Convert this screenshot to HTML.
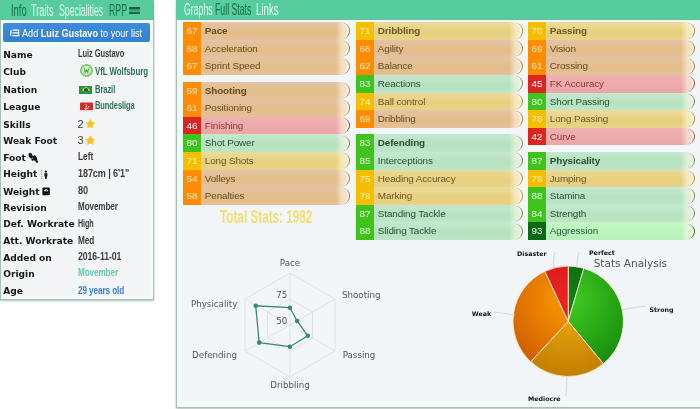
<!DOCTYPE html>
<html><head><meta charset="utf-8"><title>Luiz Gustavo</title>
<style>
*{box-sizing:border-box}
html,body{margin:0;padding:0;background:#fff;width:700px;height:409px;overflow:hidden;position:relative;font-family:"Liberation Sans",Arial,sans-serif}
.panel{position:absolute;background:#f2fcf7;border:1px solid #a2c2b6;border-top:none;box-shadow:0 1px 2px rgba(70,100,90,.45)}
.hdr{position:absolute;left:0;top:0;right:0;background:#56cc9f}
.tab{position:absolute;top:2.7px;font-size:15.6px;line-height:16px;transform-origin:0 0;transform:scaleX(.56);white-space:nowrap}
.tl{color:#e2faee} .td{color:#16704a}
#lp{left:0;top:0;width:154px;height:300px}
#lp .hdr{height:19.6px;left:-1px;right:-1px;border-bottom:1.4px solid #6cbf9e}
#lp .body{position:absolute;left:.5px;right:4.2px;top:46.5px;bottom:3.2px;background:#f4f5f6}
.btn{position:absolute;left:2.2px;top:23px;width:147px;height:18.8px;background:linear-gradient(#3d8cdc,#3580d0);border-radius:2px;color:#fff;font-size:10.3px;line-height:18.8px;white-space:nowrap}
.btn span{position:absolute;left:19px;top:1.6px;transform-origin:0 50%;transform:scaleX(.885)}
.btn b{font-weight:bold}
.lr{position:absolute;left:0;width:150px;height:14px;line-height:12px;white-space:nowrap}
.lab{position:absolute;left:3.2px;top:.9px;font-family:"DejaVu Sans",sans-serif;font-size:9.1px;font-weight:bold;color:#161616}
.lr .v{position:absolute;left:77.6px;top:.4px;font-size:10.4px;color:#3c3c3c;transform-origin:0 50%;transform:scaleX(.83);font-weight:bold;letter-spacing:-.1px}
.lr .logo ~ .v{left:95px}
.v.g{color:#2f7058}
.v.or{color:#63c8ae}
.v.ag{color:#3b7fd0}
.v.sk{color:#2c3548;font-size:11px;top:-.6px;transform:none;font-weight:normal} .v.wf{color:#4e403e;font-size:11px;top:-.6px;transform:none;font-weight:normal}
.star{position:absolute;left:84px;top:-1px;font-size:10px;color:#f3c21a}
.logo{position:absolute;left:78.2px;top:-.8px;width:15px;height:15px}
.logo svg{display:block}
.br{top:2.3px;height:8.1px;left:79.3px;width:13.2px;background:#1c9b3a}
.br:after{content:"";position:absolute;left:2.3px;top:1.1px;width:8.6px;height:5.9px;background:#f2d21a;clip-path:polygon(50% 0,100% 50%,50% 100%,0 50%)}
.br:before{content:"";position:absolute;left:4.7px;top:2.1px;width:3.9px;height:3.9px;border-radius:50%;background:#263e8a;z-index:1}
.bl{top:1.6px;height:10.5px;left:79.9px;width:13px}
.ic{display:inline-block;vertical-align:-1px;margin-left:2px}
#rp{left:176.3px;top:0;width:540px;height:408px}
#rp .hdr{height:19.7px;left:-1px;right:-1px;border-bottom:1.5px solid #6cbf9e}
#rp .body{position:absolute;left:4.2px;right:8px;top:21.5px;bottom:6.5px;background:#f3f6f8}
.grp{position:absolute;width:166.5px}
.r{position:relative;height:17.6px;font-size:9.9px;line-height:18.6px;white-space:nowrap}
.r b{position:absolute;left:0;top:0;width:18px;height:100%;color:#fff;text-align:center;font-weight:normal;z-index:2}
.r i{position:absolute;left:18px;right:0;top:0;height:100%;font-style:normal;padding-left:3.8px;border-radius:0 9px 9px 0;letter-spacing:-.12px}
.r i:after{content:"";position:absolute;right:0;top:1.2px;width:7px;height:15.2px;border-right:1.3px solid rgba(110,85,60,.75);border-radius:0 8px 8px 0/0 7.6px 7.6px 0;box-shadow:inset -1.6px 0 0 rgba(255,250,215,.95)}
.r i:before{content:"";position:absolute;right:0;top:0;bottom:0;width:14px;border-radius:0 9px 9px 0;background:linear-gradient(to right,rgba(255,250,238,0),rgba(255,250,238,.55) 45%,rgba(255,250,238,.7))}
.r.h i{font-weight:bold}
.w b{background:#ff8c00;color:#ffe9c8} .w i{background:linear-gradient(#e5c3a6,#e3bd86 60%,#e5c09c);color:#654a2a}
.m b{background:#f6be00;color:#fff1b8} .m i{background:linear-gradient(#ecdb9c,#e6cf7c 60%,#e9d38c);color:#6d5628}
.s b{background:#3ec41c;color:#ecffe6} .s i{background:linear-gradient(#c6e7d0,#b5e2be 60%,#c0e4c8);color:#274f36}
.p b{background:#0b6b14} .p i{background:linear-gradient(#c2f7c4,#b6f1b8);color:#245a38}
.w i:after{border-right-color:rgba(125,90,50,.7)} .m i:after{border-right-color:rgba(130,110,50,.7)} .s i:after{border-right-color:rgba(60,95,70,.7)} .p i:after{border-right-color:rgba(20,60,30,.85)} .d i:after{border-right-color:rgba(125,45,45,.8)}
.d b{background:#dc2420} .d i{background:linear-gradient(#eeb0b0,#eaa6a8);color:#983232}
.total{position:absolute;left:220px;top:207px;font-size:18px;line-height:20px;font-weight:bold;color:#f2df72;transform-origin:0 0;transform:scaleX(.652);white-space:nowrap}
svg.ov{position:absolute;left:0;top:0}
</style></head><body>
<div class="panel" id="lp">
 <div class="hdr">
  <span class="tab td" style="left:10.6px;transform:scaleX(.6)">Info</span>
  <span class="tab tl" style="left:31.4px;transform:scaleX(.59)">Traits</span>
  <span class="tab tl" style="left:59.2px">Specialities</span>
  <span class="tab td" style="left:108.7px">RPP</span>
  <svg style="position:absolute;left:128.8px;top:7px" width="11" height="7.4" viewBox="0 0 11 7.4"><rect x="0" y="0" width="11" height="2.5" fill="#16603e"/><rect x="0" y="3.5" width="11" height=".9" fill="#2b7a55"/><rect x="0" y="5.2" width="11" height="2.2" fill="#16603e"/></svg>
 </div>
 <div class="body"></div>
  <div class="btn"><svg style="position:absolute;left:6.8px;top:6.2px" width="10" height="9" viewBox="0 0 10 9"><path d="M2.5 1.2h6.8M2.5 3.9h6.8M2.5 6.6h6.8M1 1.2L.6 6.6" stroke="#fff" stroke-width="1.3" fill="none"/><path d="M8.6 1.2v5.4" stroke="#fff" stroke-width="1.1"/></svg><span>Add <b>Luiz Gustavo</b> to your list</span></div>
</div>
<div style="position:absolute;left:0;top:0">
<div class="lr" style="top:48.1px"><span class="lab">Name</span><span class="v" style="transform:scaleX(0.721)">Luiz Gustavo</span></div>
<div class="lr" style="top:65.3px"><span class="lab">Club</span><span class="logo wob" style="left:79.6px;top:-1.5px"><svg width="13" height="13" viewBox="0 0 13 13"><circle cx="6.5" cy="6.5" r="5.6" fill="#eef8e8" stroke="#7cc866" stroke-width="1.7"/><circle cx="6.5" cy="6.5" r="3.7" fill="#fff" stroke="#94d47e" stroke-width=".8"/><path d="M4.4 4.3l.8 4.2 1.3-2.8 1.3 2.8.8-4.2" fill="none" stroke="#4fac38" stroke-width="1.1"/></svg></span><span class="v g" style="transform:scaleX(0.764)">VfL Wolfsburg</span></div>
<div class="lr" style="top:83.3px"><span class="lab">Nation</span><span class="logo br"></span><span class="v g" style="transform:scaleX(0.728)">Brazil</span></div>
<div class="lr" style="top:100.0px"><span class="lab">League</span><span class="logo bl"><svg width="13" height="10.5" viewBox="0 0 14 10.5"><rect width="14" height="8.6" rx=".8" fill="#d42a2a"/><path d="M5.5 2.2c1 0 1.8.8 1.8 1.6S6.6 5.5 5.8 5.8l-.5 1.4h1.8l.2-1 1.1.6v-1c.8-.4 1.3-1 1.3-1.8" fill="none" stroke="#fff" stroke-width=".9"/><rect y="8.6" width="14" height="1.9" fill="#efe4e4"/></svg></span><span class="v g" style="transform:scaleX(0.721)">Bundesliga</span></div>
<div class="lr" style="top:118.1px"><span class="lab">Skills</span><span class="v sk">2</span></div>
<div class="lr" style="top:134.6px"><span class="lab">Weak Foot</span><span class="v wf">3</span></div>
<div class="lr" style="top:150.7px"><span class="lab">Foot</span><span class="v" style="transform:scaleX(0.810)">Left</span></div>
<div class="lr" style="top:167.6px"><span class="lab">Height</span><span class="v" style="transform:scaleX(0.871)">187cm | 6'1"</span></div>
<div class="lr" style="top:184.8px"><span class="lab">Weight</span><span class="v" style="transform:scaleX(0.874)">80</span></div>
<div class="lr" style="top:200.9px"><span class="lab">Revision</span><span class="v" style="transform:scaleX(0.777)">Movember</span></div>
<div class="lr" style="top:217.6px"><span class="lab">Def. Workrate</span><span class="v" style="transform:scaleX(0.689)">High</span></div>
<div class="lr" style="top:234.3px"><span class="lab">Att. Workrate</span><span class="v" style="transform:scaleX(0.792)">Med</span></div>
<div class="lr" style="top:251.0px"><span class="lab">Added on</span><span class="v" style="transform:scaleX(0.839)">2016-11-01</span></div>
<div class="lr" style="top:267.1px"><span class="lab">Origin</span><span class="v or" style="transform:scaleX(0.781)">Movember</span></div>
<div class="lr" style="top:284.3px"><span class="lab">Age</span><span class="v ag" style="transform:scaleX(0.784)">29 years old</span></div>
</div>
<svg class="ov" width="160" height="300" viewBox="0 0 160 300">
<polygon points="90.40,119.50 91.75,122.24 94.77,122.68 92.59,124.81 93.10,127.82 90.40,126.40 87.70,127.82 88.21,124.81 86.03,122.68 89.05,122.24" fill="#f4c417" stroke="#f4c417" stroke-width=".6" stroke-linejoin="round"/>
<polygon points="90.40,136.10 91.75,138.84 94.77,139.28 92.59,141.41 93.10,144.42 90.40,143.00 87.70,144.42 88.21,141.41 86.03,139.28 89.05,138.84" fill="#f4c417" stroke="#f4c417" stroke-width=".6" stroke-linejoin="round"/>
<g fill="#111">
<ellipse cx="30.7" cy="155.7" rx="1.9" ry="3" transform="rotate(-25 30.7 155.7)"/>
<ellipse cx="32.7" cy="159.6" rx="1.3" ry="1.2"/>
<ellipse cx="35" cy="158.2" rx="1.9" ry="3" transform="rotate(-25 35 158.2)"/>
<ellipse cx="36.9" cy="161.6" rx="1.3" ry="1.2"/>
</g>
<path d="M41 170.5h1.6M41 178.5h1.6M41.7 170.5v8" stroke="#777" stroke-width=".8" stroke-dasharray="1 .8" fill="none"/>
<circle cx="45.9" cy="171.6" r="1.2" fill="#111"/>
<path d="M44.4 173.2h3v3.2h-.6v2.4h-1.8v-2.4h-.6z" fill="#111"/>
<rect x="42.4" y="187.6" width="7.4" height="7.6" rx="1" fill="#111"/>
<path d="M44.1 191.2a2 2 0 0 1 4 0z" fill="#fff"/>
<path d="M46.1 191.2l.6-1.4" stroke="#111" stroke-width=".6"/>
</svg>
<div class="panel" id="rp">
 <div class="hdr">
  <span class="tab tl" style="left:7.5px;top:1.9px">Graphs</span>
  <span class="tab td" style="left:38.6px;top:1.9px">Full Stats</span>
  <span class="tab tl" style="left:79.6px;top:1.9px;transform:scaleX(.62)">Links</span>
 </div>
 <div class="body"></div>
</div>
<div class="grp" style="left:183px;top:22.3px">
<div class="r w h"><b>67</b><i>Pace</i></div>
<div class="r w"><b>68</b><i>Acceleration</i></div>
<div class="r w"><b>67</b><i>Sprint Speed</i></div>
</div>
<div class="grp" style="left:183px;top:81.6px">
<div class="r w h"><b>59</b><i>Shooting</i></div>
<div class="r w"><b>61</b><i>Positioning</i></div>
<div class="r d"><b>46</b><i>Finishing</i></div>
<div class="r s"><b>80</b><i>Shot Power</i></div>
<div class="r m"><b>71</b><i>Long Shots</i></div>
<div class="r w"><b>54</b><i>Volleys</i></div>
<div class="r w"><b>58</b><i>Penalties</i></div>
</div>
<div class="grp" style="left:356px;top:22.3px">
<div class="r m h"><b>71</b><i>Dribbling</i></div>
<div class="r w"><b>66</b><i>Agility</i></div>
<div class="r w"><b>62</b><i>Balance</i></div>
<div class="r s"><b>83</b><i>Reactions</i></div>
<div class="r m"><b>74</b><i>Ball control</i></div>
<div class="r w"><b>69</b><i>Dribbling</i></div>
</div>
<div class="grp" style="left:356px;top:134.4px">
<div class="r s h"><b>83</b><i>Defending</i></div>
<div class="r s"><b>85</b><i>Interceptions</i></div>
<div class="r m"><b>75</b><i>Heading Accuracy</i></div>
<div class="r m"><b>79</b><i>Marking</i></div>
<div class="r s"><b>87</b><i>Standing Tackle</i></div>
<div class="r s"><b>88</b><i>Sliding Tackle</i></div>
</div>
<div class="grp" style="left:528px;top:22.3px">
<div class="r m h"><b>70</b><i>Passing</i></div>
<div class="r w"><b>69</b><i>Vision</i></div>
<div class="r w"><b>61</b><i>Crossing</i></div>
<div class="r d"><b>45</b><i>FK Accuracy</i></div>
<div class="r s"><b>80</b><i>Short Passing</i></div>
<div class="r m"><b>78</b><i>Long Passing</i></div>
<div class="r d"><b>42</b><i>Curve</i></div>
</div>
<div class="grp" style="left:528px;top:152.0px">
<div class="r s h"><b>87</b><i>Physicality</i></div>
<div class="r m"><b>79</b><i>Jumping</i></div>
<div class="r s"><b>88</b><i>Stamina</i></div>
<div class="r s"><b>84</b><i>Strength</i></div>
<div class="r p"><b>93</b><i>Aggression</i></div>
</div>
<div class="total">Total Stats: 1982</div>
<svg class="ov" width="700" height="409" viewBox="0 0 700 409">
<defs>
<radialGradient id="gp" cx="568.2" cy="299.5" r="77" gradientUnits="userSpaceOnUse"><stop offset="0" stop-color="#108014"/><stop offset="1" stop-color="#0a5e0c"/></radialGradient>
<radialGradient id="gs" cx="568.2" cy="299.5" r="77" gradientUnits="userSpaceOnUse"><stop offset="0" stop-color="#44cc22"/><stop offset="1" stop-color="#148a0c"/></radialGradient>
<radialGradient id="gm" cx="568.2" cy="299.5" r="77" gradientUnits="userSpaceOnUse"><stop offset="0" stop-color="#efb012"/><stop offset="1" stop-color="#c47e00"/></radialGradient>
<radialGradient id="gw" cx="568.2" cy="299.5" r="77" gradientUnits="userSpaceOnUse"><stop offset="0" stop-color="#ff9a00"/><stop offset="1" stop-color="#cc5a00"/></radialGradient>
<radialGradient id="gd" cx="568.2" cy="299.5" r="77" gradientUnits="userSpaceOnUse"><stop offset="0" stop-color="#ee2222"/><stop offset="1" stop-color="#c41818"/></radialGradient>
</defs>
<g fill="none" stroke="#e0e2e2" stroke-width="1">
<polygon points="290.0,273.0 335.0,299.0 335.0,351.0 290.0,377.0 245.0,351.0 245.0,299.0"/><polygon points="290.0,299.0 312.5,312.0 312.5,338.0 290.0,351.0 267.5,338.0 267.5,312.0"/><line x1="290" y1="325" x2="290.0" y2="273.0"/><line x1="290" y1="325" x2="335.0" y2="299.0"/><line x1="290" y1="325" x2="335.0" y2="351.0"/><line x1="290" y1="325" x2="290.0" y2="377.0"/><line x1="290" y1="325" x2="245.0" y2="351.0"/><line x1="290" y1="325" x2="245.0" y2="299.0"/>
</g>
<polygon points="289.9,307.7 297.2,321.0 307.8,335.8 289.9,346.7 259.2,342.6 255.7,305.8" fill="none" stroke="#388b6c" stroke-width="1.3"/>
<g fill="#388b6c"><circle cx="289.9" cy="307.7" r="2.3"/><circle cx="297.2" cy="321.0" r="2.3"/><circle cx="307.8" cy="335.8" r="2.3"/><circle cx="289.9" cy="346.7" r="2.3"/><circle cx="259.2" cy="342.6" r="2.3"/><circle cx="255.7" cy="305.8" r="2.3"/></g>
<g font-family="DejaVu Sans, sans-serif" font-size="8.7" fill="#555">
<text x="290" y="266.3" text-anchor="middle">Pace</text>
<text x="342" y="297.9">Shooting</text>
<text x="342.7" y="358.2">Passing</text>
<text x="290" y="387.7" text-anchor="middle">Dribbling</text>
<text x="237" y="358.2" text-anchor="end">Defending</text>
<text x="237.3" y="307.4" text-anchor="end">Physicality</text>
<text x="287.2" y="297.6" text-anchor="end">75</text>
<text x="287.4" y="323.9" text-anchor="end">50</text>
</g>
<g stroke="#fff4dc" stroke-width=".8" stroke-linejoin="round">
<path d="M568.2,321.3 L568.2,266.1 A55.2,55.2 0 0 1 583.8,268.3 Z" fill="url(#gp)"/>
<path d="M568.2,321.3 L583.8,268.3 A55.2,55.2 0 0 1 603.4,363.8 Z" fill="url(#gs)"/>
<path d="M568.2,321.3 L603.4,363.8 A55.2,55.2 0 0 1 530.7,361.8 Z" fill="url(#gm)"/>
<path d="M568.2,321.3 L530.7,361.8 A55.2,55.2 0 0 1 544.9,271.3 Z" fill="url(#gw)"/>
<path d="M568.2,321.3 L544.9,271.3 A55.2,55.2 0 0 1 568.2,266.1 Z" fill="url(#gd)"/>
</g>
<g fill="none" stroke="#d2d8dc" stroke-width="1">
<path d="M554,268 C553,262 554,256 555,252"/>
<path d="M577,268 C577,262 578,256 579,252"/>
<path d="M622,310 C630,308 638,307 646,306"/>
<path d="M515,315 C508,314 502,313 494,312"/>
<path d="M567,376 C567,384 566,390 566,396"/>
</g>
<g font-family="DejaVu Sans, sans-serif" font-size="6.3" font-weight="bold" fill="#111">
<text x="517" y="256">Disaster</text>
<text x="589" y="255">Perfect</text>
<text x="649.5" y="312">Strong</text>
<text x="471.8" y="315.8">Weak</text>
<text x="528" y="400.6">Mediocre</text>
</g>
<text x="593.7" y="266.5" font-family="DejaVu Sans, sans-serif" font-size="10.5" fill="#555">Stats Analysis</text>
</svg>
</body></html>
